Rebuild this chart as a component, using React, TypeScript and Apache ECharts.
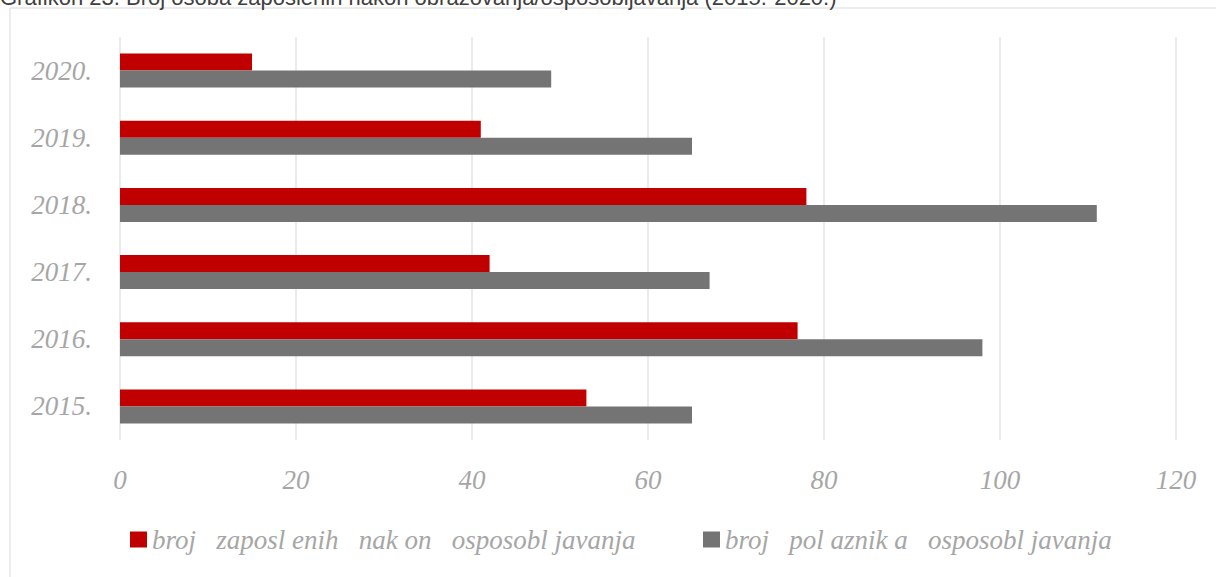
import React, { useEffect, useRef } from "react";
import * as echarts from "echarts";

const titleText = "Grafikon 23. Broj osoba zaposlenih nakon obrazovanja/osposobljavanja (2015.-2020.)";
const years = ["2015.", "2016.", "2017.", "2018.", "2019.", "2020."];
const employedName = "broj   zaposl enih   nak on   osposobl javanja";
const traineesName = "broj   pol aznik a   osposobl javanja";
const employed = [53, 77, 42, 78, 41, 15];
const trainees = [65, 98, 67, 111, 65, 49];
const xTicks = [0, 20, 40, 60, 80, 100, 120];

const RED = "#C00000";
const GRAY = "#747474";
const LABEL = "#A6A6A6";
const SERIF = "Liberation Serif";

export default function App() {
  const ref = useRef<HTMLDivElement>(null);
  useEffect(() => {
    if (!ref.current) return;
    const chart = echarts.init(ref.current, null, { renderer: "svg" });
    const legendText = {
      color: LABEL,
      fontFamily: SERIF,
      fontStyle: "italic",
      fontSize: 27,
    };
    chart.setOption({
      animation: false,
      backgroundColor: "#FFFFFF",
      textStyle: { fontFamily: SERIF, fontStyle: "italic" },
      graphic: [
        {
          type: "rect",
          shape: { x: 10, y: 8, width: 1220, height: 600 },
          style: { fill: "none", stroke: "#D9D9D9", lineWidth: 1 },
          silent: true,
        },
        {
          type: "text",
          x: 0,
          y: 8,
          style: {
            text: titleText,
            font: "22px 'Liberation Sans', Arial, sans-serif",
            fill: "#404040",
            textVerticalAlign: "bottom",
          },
          silent: true,
        },
      ],
      grid: { left: 120, right: 40, top: 37, bottom: 137, containLabel: false },
      xAxis: {
        type: "value",
        min: xTicks[0],
        max: xTicks[xTicks.length - 1],
        interval: 20,
        axisLine: { show: false },
        axisTick: { show: false },
        splitLine: { show: true, lineStyle: { color: "#E4E4E4", width: 1.5 } },
        axisLabel: {
          margin: 26,
          color: LABEL,
          fontFamily: SERIF,
          fontStyle: "italic",
          fontSize: 27,
          formatter: (v: number) => String(v),
        },
      },
      yAxis: {
        type: "category",
        data: years,
        axisLine: { show: false },
        axisTick: { show: false },
        splitLine: { show: false },
        axisLabel: {
          margin: 28,
          color: LABEL,
          fontFamily: SERIF,
          fontStyle: "italic",
          fontSize: 27,
        },
      },
      legend: [
        {
          data: [employedName],
          left: 130,
          top: 526,
          itemWidth: 17,
          itemHeight: 16,
          itemGap: 0,
          padding: 0,
          icon: "rect",
          textStyle: legendText,
        },
        {
          data: [traineesName],
          left: 703,
          top: 526,
          itemWidth: 17,
          itemHeight: 16,
          itemGap: 0,
          padding: 0,
          icon: "rect",
          textStyle: legendText,
        },
      ],
      series: [
        {
          name: employedName,
          type: "bar",
          data: employed,
          barWidth: 17,
          barGap: "0%",
          itemStyle: { color: RED },
        },
        {
          name: traineesName,
          type: "bar",
          data: trainees,
          barWidth: 17,
          barGap: "0%",
          itemStyle: { color: GRAY },
        },
      ],
    });
    return () => chart.dispose();
  }, []);
  return (
    <div
      ref={ref}
      style={{ position: "fixed", left: 0, top: 0, width: 1216, height: 577, background: "#fff" }}
    />
  );
}
